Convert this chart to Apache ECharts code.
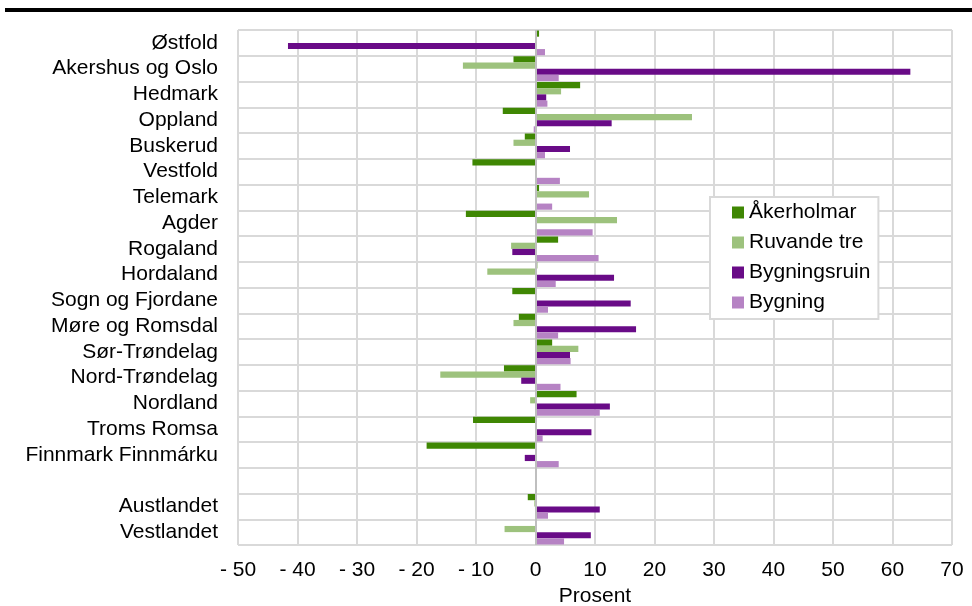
<!DOCTYPE html>
<html>
<head>
<meta charset="utf-8">
<script src="https://cdn.jsdelivr.net/npm/echarts@6/dist/echarts.min.js"></script>
<style>
html,body{margin:0;padding:0;background:#fff;}
#c{width:972px;height:606px;}
</style>
</head>
<body>
<div id="c"></div>
<script>
const categories = ['Østfold','Akershus og Oslo','Hedmark','Oppland','Buskerud','Vestfold','Telemark','Agder','Rogaland','Hordaland','Sogn og Fjordane','Møre og Romsdal','Sør-Trøndelag','Nord-Trøndelag','Nordland','Troms Romsa','Finnmark Finnmárku','','Austlandet','Vestlandet'];
const seriesNames = ['Åkerholmar','Ruvande tre','Bygningsruin','Bygning'];
const akerholmar = [0.6, -3.7, 7.5, -5.5, -1.8, -10.6, 0.6, -11.7, 3.8, 0.3, -3.9, -2.8, 2.8, -5.3, 6.9, -10.5, -18.3, null, -1.3, null];
const ruvandeTre = [null, -12.2, 4.3, 26.3, -3.7, null, 9.0, 13.7, -4.1, -8.1, null, -3.7, 7.2, -16.0, -0.9, null, null, null, -0.2, -5.2];
const bygningsruin = [-41.6, 63.0, 1.8, 12.8, 5.8, null, null, null, -3.9, 13.2, 16.0, 16.9, 5.8, -2.4, 12.5, 9.4, -1.8, null, 10.8, 9.3];
const bygning = [1.6, 3.9, 2.0, -0.3, 1.6, 4.1, 2.8, 9.6, 10.6, 3.4, 2.1, 3.8, 5.9, 4.2, 10.8, 1.2, 3.9, null, 2.1, 4.8];
const colors = ['#3f8703','#9dc27d','#690b87','#b683c4'];
const xMin = -50, xMax = 70, xStep = 10;

const font = 'Liberation Sans, Arial, sans-serif';
const fs = 21;
const chart = echarts.init(document.getElementById('c'));
const values = [akerholmar, ruvandeTre, bygningsruin, bygning];
const series = values.map((d, i) => ({
  name: seriesNames[i],
  type: 'bar',
  data: d,
  barGap: '0%',
  barCategoryGap: '4%',
  itemStyle: {color: colors[i]},
  animation: false,
  markLine: i === 0 ? {
    silent: true, symbol: 'none', label: {show: false},
    lineStyle: {color: '#bfbfbf', width: 2, type: 'solid'},
    data: [{xAxis: 0}]
  } : undefined
}));

chart.setOption({
  animation: false,
  color: colors,
  grid: {left: 238, right: 20, top: 30, bottom: 61, containLabel: false, outerBoundsMode: 'none'},
  xAxis: {
    type: 'value', min: xMin, max: xMax, interval: xStep,
    name: 'Prosent', nameLocation: 'middle', nameGap: 38,
    nameTextStyle: {fontFamily: font, fontSize: fs, color: '#000'},
    axisLine: {show: false}, axisTick: {show: false},
    axisLabel: {fontFamily: font, fontSize: fs, color: '#000', margin: 15,
      formatter: v => v < 0 ? '- ' + Math.abs(v) : String(v)},
    splitLine: {show: true, lineStyle: {color: '#d9d9d9', width: 2}}
  },
  yAxis: {
    type: 'category', data: categories, inverse: true,
    axisLine: {show: false}, axisTick: {show: false},
    axisLabel: {fontFamily: font, fontSize: fs, color: '#000', margin: 20, interval: 0},
    splitLine: {show: true, interval: 0, lineStyle: {color: '#d9d9d9', width: 2}}
  },
  legend: {
    orient: 'vertical', left: 710, top: 197,
    data: seriesNames,
    icon: 'rect', itemWidth: 12, itemHeight: 12, itemGap: 9,
    padding: [5, 8, 6, 22],
    borderColor: '#d9d9d9', borderWidth: 2, backgroundColor: '#fff',
    textStyle: {fontFamily: font, fontSize: fs, color: '#000'}
  },
  graphic: [{
    type: 'rect', left: 5, top: 8, shape: {width: 967, height: 4},
    style: {fill: '#000'}
  }],
  series: series
});
</script>
</body>
</html>
